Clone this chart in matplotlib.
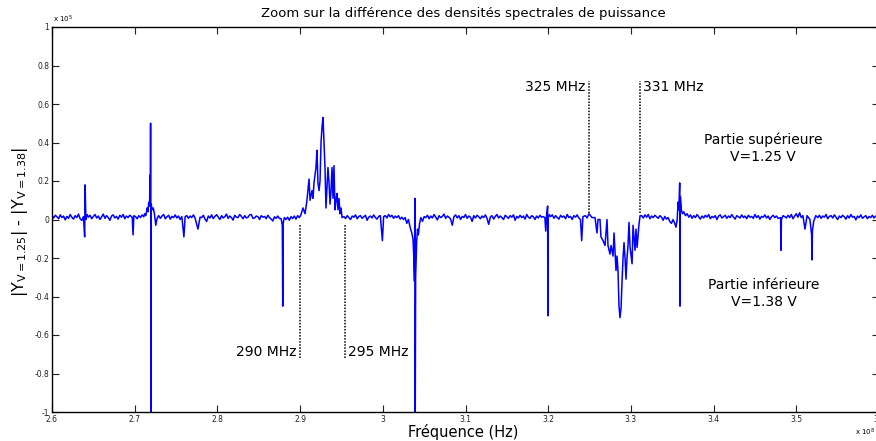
import matplotlib
matplotlib.use("Agg")
import matplotlib.pyplot as plt

# Frequency in units of 1e8 Hz, difference in units of 1e5, read segment by segment
seg_a_freq = [2.600, 2.602, 2.604, 2.606, 2.608, 2.610, 2.612, 2.614, 2.616, 2.618,
              2.620, 2.622, 2.624, 2.626, 2.628, 2.630, 2.632, 2.634, 2.636,
              2.638, 2.6395, 2.640, 2.641, 2.6425]
seg_a_diff = [0.020, 0.008, 0.022, 0.014, 0.004, 0.024, 0.010, 0.018, -0.002, 0.016,
              0.006, 0.026, 0.012, 0.002, 0.020, 0.010, 0.028, 0.004, -0.005,
              0.015, -0.090, 0.180, 0.000, 0.025]

seg_b_freq = [2.644, 2.646, 2.648, 2.650, 2.652, 2.654, 2.656, 2.658, 2.660, 2.662,
              2.664, 2.666, 2.668, 2.670, 2.672, 2.674, 2.676, 2.678, 2.680, 2.682,
              2.684, 2.686, 2.688, 2.690, 2.692, 2.694,
              2.697, 2.698, 2.699]
seg_b_diff = [0.012, 0.022, 0.004, 0.016, 0.026, 0.008, 0.018, 0.000, 0.014, 0.028,
              0.006, 0.020, 0.010, -0.004, 0.018, 0.024, 0.008, 0.016, 0.002, 0.022,
              0.012, 0.026, 0.004, 0.018, 0.010, 0.022,
              0.012, -0.080, 0.020]

seg_c_freq = [2.701, 2.703, 2.705, 2.707, 2.709, 2.711,
              2.712, 2.7135, 2.715, 2.716, 2.717, 2.718, 2.7185, 2.7188, 2.7192, 2.7195,
              2.7197, 2.7200, 2.721, 2.7225, 2.724, 2.7255, 2.727]
seg_c_diff = [0.015, 0.004, 0.020, 0.010, 0.024, 0.014,
              0.030, 0.020, 0.060, 0.040, 0.090, 0.070, 0.230, 0.100, 0.500, 0.100,
              -1.050, 0.080, 0.050, 0.060, 0.025, -0.030, 0.005]

seg_d_freq = [2.729, 2.731, 2.733, 2.735, 2.737, 2.739, 2.741, 2.743, 2.745, 2.747,
              2.749, 2.751, 2.753, 2.755, 2.757,
              2.7595, 2.761,
              2.763, 2.765, 2.767, 2.769, 2.771, 2.773,
              2.7765, 2.779]
seg_d_diff = [0.020, 0.006, 0.018, 0.026, 0.004, 0.014, 0.022, 0.002, 0.016, 0.010,
              0.024, 0.008, 0.018, 0.000, 0.015,
              -0.090, 0.015,
              0.020, 0.006, 0.018, 0.010, 0.024, 0.008,
              -0.050, 0.012]

seg_e_freq = [2.781, 2.783, 2.785, 2.787, 2.789, 2.791, 2.793, 2.795, 2.797, 2.799,
              2.801, 2.803, 2.805, 2.807, 2.809, 2.811, 2.813, 2.815, 2.817, 2.819,
              2.821, 2.823, 2.825, 2.827, 2.829, 2.831, 2.833, 2.835, 2.837, 2.839,
              2.841, 2.843, 2.845, 2.847, 2.849, 2.851, 2.853, 2.855, 2.857, 2.859,
              2.861, 2.863, 2.865, 2.867, 2.869, 2.871, 2.873, 2.875,
              2.877, 2.8785, 2.879, 2.8795, 2.881]
seg_e_diff = [0.010, 0.022, 0.002, -0.010, 0.018, 0.008, 0.024, 0.005, 0.016, 0.025,
              0.012, 0.000, 0.020, 0.008, 0.015, 0.028, 0.006, 0.018, 0.010, -0.003,
              0.022, 0.012, 0.010, 0.026, 0.016, 0.004, 0.020, 0.008, 0.012, 0.024,
              0.026, 0.006, 0.008, 0.018, 0.015, 0.000, 0.020, 0.012, 0.016, 0.004,
              0.022, 0.010, 0.002, -0.008, 0.014, 0.006, 0.018, 0.005,
              0.005, -0.030, -0.450, -0.020, 0.010]

seg_f_freq = [2.883, 2.885, 2.887, 2.889, 2.891, 2.893, 2.895, 2.897, 2.899, 2.901,
              2.9035, 2.906, 2.9083, 2.9108, 2.912, 2.9144, 2.9156, 2.9168, 2.9192, 2.9204,
              2.9216, 2.9229, 2.9241, 2.9253, 2.9265, 2.9277, 2.9289, 2.9301, 2.9313, 2.9325,
              2.9337, 2.935, 2.9362, 2.9374, 2.9386, 2.9398, 2.941, 2.9422, 2.9434, 2.9446,
              2.9458, 2.947, 2.9483, 2.9495, 2.9507]
seg_f_diff = [0.000, 0.012, -0.004, 0.015, 0.005, 0.018, 0.002, 0.020, 0.010, 0.024,
              0.060, 0.030, 0.100, 0.210, 0.100, 0.150, 0.110, 0.190, 0.270, 0.360,
              0.190, 0.150, 0.200, 0.400, 0.480, 0.530, 0.400, 0.270, 0.060, 0.170,
              0.270, 0.190, 0.080, 0.150, 0.270, 0.110, 0.280, 0.050, 0.100, 0.135,
              0.050, 0.110, 0.030, 0.060, 0.010]

seg_g_freq = [2.953, 2.955, 2.957, 2.959, 2.961, 2.963, 2.965, 2.967, 2.969, 2.971,
              2.973, 2.975, 2.977, 2.979, 2.981, 2.983, 2.985, 2.987, 2.989, 2.991,
              2.993, 2.995, 2.997,
              2.9995, 3.001,
              3.003, 3.005, 3.007, 3.009, 3.011, 3.013, 3.015, 3.017, 3.019, 3.021, 3.023]
seg_g_diff = [0.015, 0.005, 0.020, 0.010, 0.000, 0.018, 0.012, 0.024, 0.004, 0.016,
              0.020, 0.006, 0.014, 0.022, -0.004, 0.012, 0.018, 0.008, 0.024, 0.010,
              0.002, 0.016, 0.020,
              -0.110, 0.015,
              0.020, 0.008, 0.026, 0.014, 0.022, 0.006, 0.018, 0.010, 0.020, 0.002, 0.012]

seg_h_freq = [3.025, 3.027, 3.029, 3.031, 3.033, 3.035, 3.0365, 3.0375, 3.0383, 3.0388,
              3.0392, 3.0397, 3.041, 3.042, 3.043, 3.0445, 3.046, 3.048, 3.050]
seg_h_diff = [0.000, 0.010, -0.020, 0.000, -0.040, -0.070, -0.100, -0.200, -0.320, 0.110,
              -1.050, -0.300, -0.110, -0.050, -0.080, -0.020, 0.010, -0.010, 0.015]

seg_i_freq = [3.052, 3.054, 3.056, 3.058, 3.060, 3.062, 3.064, 3.066, 3.068, 3.070,
              3.072, 3.074, 3.076, 3.078, 3.080, 3.082, 3.084, 3.086, 3.088, 3.090,
              3.092, 3.094, 3.096, 3.098, 3.100, 3.102, 3.104, 3.106, 3.108, 3.110,
              3.112, 3.114, 3.116, 3.118, 3.120, 3.122, 3.124, 3.126, 3.128, 3.130,
              3.132, 3.134, 3.136, 3.138, 3.140, 3.142, 3.144, 3.146, 3.148, 3.150,
              3.152, 3.154, 3.156, 3.158, 3.160, 3.162, 3.164, 3.166, 3.168, 3.170,
              3.172, 3.174, 3.176, 3.178, 3.180, 3.182, 3.184, 3.186, 3.188, 3.190,
              3.192, 3.194]
seg_i_diff = [0.010, 0.022, 0.004, 0.018, 0.008, 0.026, 0.012, -0.002, 0.020, 0.010,
              0.016, 0.028, 0.006, 0.018, 0.012, 0.002, -0.030, 0.014, 0.024, 0.008,
              0.020, 0.000, 0.016, 0.010, 0.026, 0.006, 0.018, 0.012, -0.010, 0.020,
              0.008, 0.022, 0.014, 0.004, 0.018, 0.010, 0.024, 0.006, -0.025, 0.012,
              0.020, 0.002, 0.016, 0.026, 0.008, 0.018, 0.010, 0.000, 0.022, 0.014,
              0.006, 0.020, 0.012, 0.024, -0.004, 0.016, 0.008, 0.022, 0.010, 0.018,
              0.002, 0.026, 0.012, 0.006, 0.020, 0.014, 0.000, 0.018, 0.008, 0.022,
              0.012, 0.015]

seg_j_freq = [3.196, 3.197, 3.198, 3.1993, 3.1996, 3.200, 3.2015,
              3.203, 3.205, 3.207, 3.209, 3.211, 3.213, 3.215, 3.217, 3.219, 3.221,
              3.223, 3.225, 3.227, 3.229, 3.231, 3.233, 3.235, 3.237,
              3.239, 3.2405, 3.242, 3.245, 3.247]
seg_j_diff = [0.010, -0.060, 0.020, 0.070, -0.500, 0.010, 0.025,
              0.015, 0.024, 0.006, 0.020, 0.010, 0.002, 0.022, 0.012, 0.018, 0.004,
              0.026, 0.010, 0.016, 0.000, 0.020, 0.012, 0.024, 0.008,
              0.000, -0.110, 0.015, 0.020, 0.008]

seg_k_freq = [3.2493, 3.253, 3.2566, 3.259, 3.2602, 3.2626, 3.2638, 3.2663, 3.2687, 3.2711,
              3.2723, 3.2747, 3.276, 3.2784, 3.2796, 3.282, 3.2832, 3.2844, 3.2856, 3.2868,
              3.2881, 3.2893, 3.2905, 3.2917, 3.2929, 3.2941, 3.2953, 3.2965, 3.2977, 3.299,
              3.3014, 3.3026, 3.305, 3.3062, 3.3075, 3.3099, 3.3111]
seg_k_diff = [0.030, 0.010, 0.010, -0.070, 0.000, 0.000, -0.090, -0.110, -0.135, 0.000,
              -0.135, -0.180, -0.135, -0.190, -0.070, -0.265, -0.190, -0.265, -0.450, -0.510,
              -0.460, -0.320, -0.200, -0.120, -0.200, -0.310, -0.200, -0.135, -0.015, -0.145,
              -0.230, -0.030, -0.160, -0.050, -0.145, -0.020, 0.020]

seg_l_freq = [3.313, 3.315, 3.317, 3.319, 3.321, 3.323, 3.325, 3.327, 3.329, 3.331,
              3.333, 3.335, 3.337, 3.339, 3.341, 3.343, 3.345, 3.347, 3.349, 3.351,
              3.353, 3.3545, 3.356, 3.357, 3.358, 3.359, 3.3594, 3.3598, 3.361, 3.3625,
              3.364, 3.366]
seg_l_diff = [0.020, 0.008, 0.024, 0.012, 0.026, 0.004, 0.018, 0.010, 0.022, 0.014,
              0.006, 0.020, 0.012, -0.004, 0.016, 0.002, 0.010, -0.010, -0.020, 0.000,
              -0.020, -0.040, 0.000, 0.090, 0.050, 0.190, -0.450, 0.120, 0.050, 0.030,
              0.040, 0.020]

seg_m_freq = [3.368, 3.370, 3.372, 3.374, 3.376, 3.378, 3.380, 3.382, 3.384, 3.386,
              3.388, 3.390, 3.392, 3.394, 3.396, 3.398, 3.400, 3.402, 3.404, 3.406,
              3.408, 3.410, 3.412, 3.414, 3.416, 3.418, 3.420, 3.422, 3.424, 3.426,
              3.428, 3.430, 3.432, 3.434, 3.436, 3.438, 3.440, 3.442, 3.444, 3.446,
              3.448, 3.450, 3.452, 3.454, 3.456, 3.458, 3.460, 3.462, 3.464, 3.466,
              3.468, 3.470, 3.472, 3.474, 3.476, 3.478,
              3.481, 3.4815, 3.482, 3.484, 3.486]
seg_m_diff = [0.030, 0.012, 0.024, 0.006, 0.020, 0.010, 0.026, 0.014, 0.002, 0.018,
              0.008, 0.022, 0.012, 0.026, 0.004, 0.016, 0.010, 0.020, 0.000, 0.018,
              0.024, 0.008, 0.014, 0.022, 0.006, 0.018, 0.010, 0.026, 0.012, 0.002,
              0.020, 0.014, 0.008, 0.024, 0.010, 0.018, 0.004, 0.022, 0.012, 0.016,
              0.006, 0.026, 0.010, 0.020, 0.002, 0.016, 0.012, 0.024, 0.008, 0.018,
              0.000, 0.014, 0.022, 0.010, 0.018, 0.006,
              0.010, -0.160, 0.000, 0.020, 0.015]

seg_n_freq = [3.488, 3.490, 3.492, 3.494, 3.496, 3.498, 3.500, 3.502, 3.504, 3.506, 3.508,
              3.5105, 3.513, 3.5165, 3.5185, 3.519, 3.5195, 3.521, 3.5235]
seg_n_diff = [0.008, 0.022, 0.010, 0.026, 0.004, 0.018, 0.030, 0.012, 0.035, 0.010, 0.020,
              -0.050, 0.020, 0.000, -0.080, -0.210, -0.060, -0.010, 0.020]

seg_o_freq = [3.526, 3.528, 3.530, 3.532, 3.534, 3.536, 3.538, 3.540, 3.542, 3.544,
              3.546, 3.548, 3.550, 3.552, 3.554, 3.556, 3.558, 3.560, 3.562, 3.564,
              3.566, 3.568, 3.570, 3.572, 3.574, 3.576, 3.578, 3.580, 3.582, 3.584,
              3.586, 3.588, 3.590, 3.592, 3.594, 3.596, 3.598, 3.600]
seg_o_diff = [0.010, 0.022, 0.006, 0.018, 0.012, 0.026, 0.004, 0.016, 0.020, 0.008,
              0.024, 0.012, 0.000, 0.018, 0.010, 0.022, 0.014, 0.002, 0.020, 0.008,
              0.026, 0.012, 0.016, -0.002, 0.018, 0.010, 0.024, 0.006, 0.014, 0.020,
              0.004, 0.016, 0.010, 0.022, 0.008, 0.018, 0.012, 0.015]

freq_segments = [seg_a_freq, seg_b_freq, seg_c_freq, seg_d_freq, seg_e_freq, seg_f_freq,
                 seg_g_freq, seg_h_freq, seg_i_freq, seg_j_freq, seg_k_freq, seg_l_freq,
                 seg_m_freq, seg_n_freq, seg_o_freq]
diff_segments = [seg_a_diff, seg_b_diff, seg_c_diff, seg_d_diff, seg_e_diff, seg_f_diff,
                 seg_g_diff, seg_h_diff, seg_i_diff, seg_j_diff, seg_k_diff, seg_l_diff,
                 seg_m_diff, seg_n_diff, seg_o_diff]

freq_e8 = []
diff_e5 = []
for k, (fs, ds) in enumerate(zip(freq_segments, diff_segments)):
    assert len(fs) == len(ds), (k, len(fs), len(ds))
    freq_e8 += fs
    diff_e5 += ds

x_ticks = [2.6, 2.7, 2.8, 2.9, 3.0, 3.1, 3.2, 3.3, 3.4, 3.5, 3.6]
x_tick_labels = ["2.6", "2.7", "2.8", "2.9", "3", "3.1", "3.2", "3.3", "3.4", "3.5", "3.6"]
y_ticks = [-1, -0.8, -0.6, -0.4, -0.2, 0, 0.2, 0.4, 0.6, 0.8, 1]
y_tick_labels = ["-1", "-0.8", "-0.6", "-0.4", "-0.2", "0", "0.2", "0.4", "0.6", "0.8", "1"]

# Marker lines (frequency in 1e8 Hz, y span in 1e5)
low_marker_freqs = [2.900, 2.954]
low_marker_labels = ["290 MHz", "295 MHz"]
low_marker_span = [-0.72, -0.03]
high_marker_freqs = [3.249, 3.311]
high_marker_labels = ["325 MHz", "331 MHz"]
high_marker_span = [0.035, 0.72]

plt.rcParams['font.family'] = ['DejaVu Sans']
plt.rcParams['mathtext.fontset'] = 'dejavusans'

fig = plt.figure(figsize=(8.76, 4.41), dpi=100)
ax = fig.add_axes([52/876, 29/441, 827/876, 385/441])

ax.plot(freq_e8, diff_e5, color=(0, 0, 1), lw=1.1)

for f in low_marker_freqs:
    ax.plot([f, f], low_marker_span, color='black', ls=(0, (1, 1)), lw=1.1)
for f in high_marker_freqs:
    ax.plot([f, f], high_marker_span, color='black', ls=(0, (1, 1)), lw=1.1)

ax.text(low_marker_freqs[0] - 0.004, -0.69, low_marker_labels[0], ha='right', va='center', fontsize=10)
ax.text(low_marker_freqs[1] + 0.004, -0.69, low_marker_labels[1], ha='left', va='center', fontsize=10)
ax.text(high_marker_freqs[0] - 0.004, 0.686, high_marker_labels[0], ha='right', va='center', fontsize=10)
ax.text(high_marker_freqs[1] + 0.004, 0.686, high_marker_labels[1], ha='left', va='center', fontsize=10)

ax.text(3.46, 0.37, "Partie supérieure\nV=1.25 V", ha='center', va='center', fontsize=10, linespacing=1.25)
ax.text(3.461, -0.385, "Partie inférieure\nV=1.38 V", ha='center', va='center', fontsize=10, linespacing=1.25)

ax.set_xlim(2.6, 3.6)
ax.set_ylim(-1, 1)
ax.set_xticks(x_ticks)
ax.set_xticklabels(x_tick_labels)
ax.set_yticks(y_ticks)
ax.set_yticklabels(y_tick_labels)
ax.tick_params(direction='in', length=5, width=0.8, labelsize=5.5, top=True, right=True,
               colors='#222222', pad=2)
for s in ax.spines.values():
    s.set_linewidth(1.0)
    s.set_color('black')

fig.text(463/876, 1 - 13/441, "Zoom sur la différence des densités spectrales de puissance",
         ha='center', va='center', fontsize=9.5)
fig.text(463/876, 1 - 432/441, "Fréquence (Hz)", ha='center', va='center', fontsize=10.5)
fig.text(20/876, 1 - 222/441,
         r"$|\mathrm{Y}_{\mathrm{V=1.25}}|$ - $|\mathrm{Y}_{\mathrm{V=1.38}}|$",
         ha='center', va='center', rotation=90, fontsize=11.5)
fig.text(53/876, 1 - 19/441, r"x 10$^{5}$", ha='left', va='center', fontsize=5)
fig.text(875/876, 1 - 432/441, r"x 10$^{8}$", ha='right', va='center', fontsize=5)

fig.savefig("out.png", dpi=100)
